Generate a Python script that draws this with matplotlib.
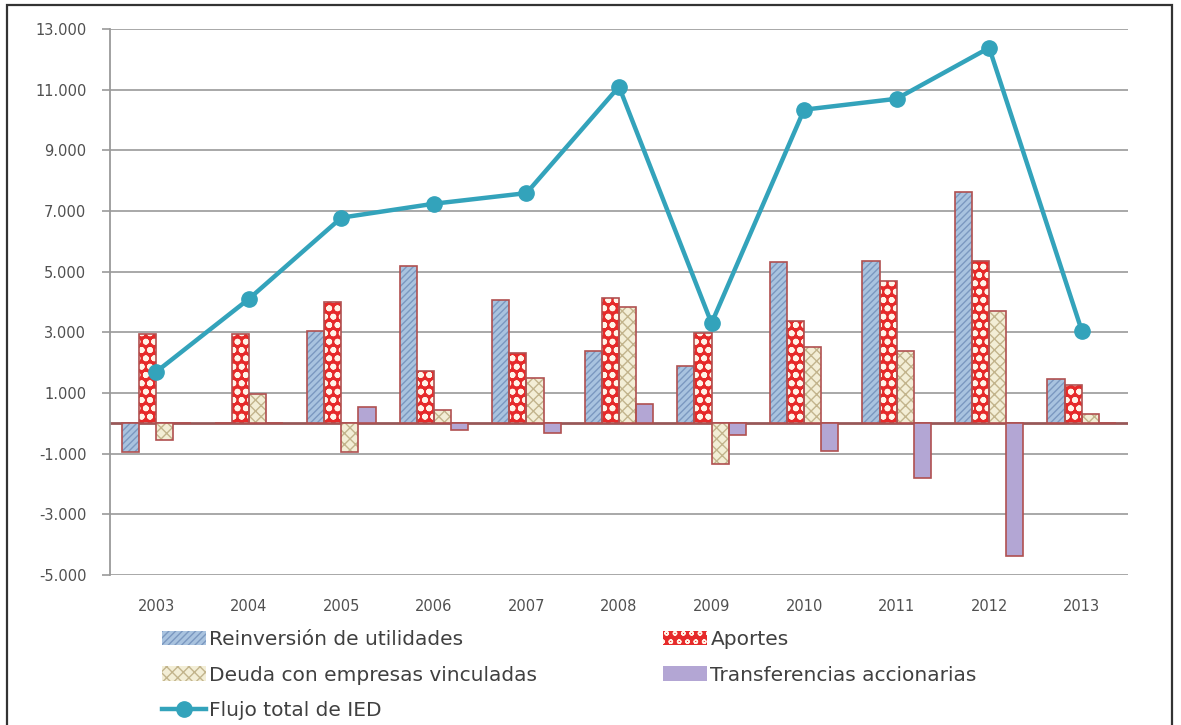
import numpy as np
import matplotlib
matplotlib.use("Agg")
import matplotlib.pyplot as plt
from matplotlib.patches import Rectangle, Patch
from matplotlib.lines import Line2D
from matplotlib.ticker import FuncFormatter

years = ['2003', '2004', '2005', '2006', '2007', '2008', '2009', '2010', '2011', '2012', '2013']
reinversion = [-930, 0, 3050, 5200, 4050, 2380, 1880, 5310, 5360, 7630, 1470]
aportes = [2960, 2960, 4000, 1720, 2320, 4130, 2980, 3370, 4700, 5340, 1250]
deuda = [-550, 980, -950, 430, 1500, 3830, -1350, 2510, 2380, 3690, 310]
transferencias = [0, 0, 540, -210, -320, 650, -400, -900, -1800, -4360, 0]
flujo = [1700, 4100, 6780, 7240, 7590, 11100, 3300, 10340, 10700, 12380, 3060]

labels = ['Reinversión de utilidades', 'Aportes', 'Deuda con empresas vinculadas',
          'Transferencias accionarias', 'Flujo total de IED']

edge = '#b05050'
# (face, hatch, hatch colour, hatch width)
styles = [('#a9c3df', '/////', '#7b98c0', 1.0),
          ('#e62a2a', 'oo', '#fff4e8', 1.8),
          ('#f3eed6', 'xxx', '#c2b48c', 1.0),
          ('#b3a6d4', '', '#b3a6d4', 1.0)]
line_col = '#33a3bb'

fig = plt.figure(figsize=(11.81, 7.25), dpi=100)
ax = fig.add_axes([110/1181, 1-575/725, 1018/1181, 546/725])

x = np.arange(len(years))
w = 0.185
series = [reinversion, aportes, deuda, transferencias]
for i, (vals, (fc, hatch, hc, hw)) in enumerate(zip(series, styles)):
    pos = x + (i - 1.5) * w
    with plt.rc_context({'hatch.linewidth': hw}):
        ax.bar(pos, vals, w, color=fc, edgecolor=hc, hatch=hatch, linewidth=0, zorder=3)
    ax.bar(pos, vals, w, fill=False, edgecolor=edge, linewidth=1.2, zorder=4)

ax.plot(x, flujo, color=line_col, lw=3.2, marker='o', ms=11, zorder=6)

ax.set_xlim(-0.5, len(years) - 0.5)
ax.set_ylim(-5000, 13000)
ax.set_yticks(np.arange(-5000, 13001, 2000))
ax.yaxis.set_major_formatter(FuncFormatter(lambda v, p: f'{int(v):,}'.replace(',', '.')))
ax.grid(axis='y', color='#9a9a9a', lw=1.2, zorder=0)
ax.axhline(0, color='#985858', lw=2, zorder=2)

for s in ['top', 'right', 'bottom']:
    ax.spines[s].set_visible(False)
ax.spines['left'].set_color('#9a9a9a')
ax.spines['left'].set_linewidth(1.3)
ax.tick_params(axis='y', length=6, width=1.2, color='#9a9a9a', pad=11,
               labelsize=10.5, labelcolor='#505050')
ax.set_xticks(x)
ax.set_xticklabels(years)
ax.tick_params(axis='x', length=0, pad=17, labelsize=10.5, labelcolor='#505050')

handles = []
for fc, hatch, hc, hw in styles:
    with plt.rc_context({'hatch.linewidth': hw}):
        handles.append(Patch(facecolor=fc, edgecolor=hc, hatch=hatch, lw=0))
handles.append(Line2D([], [], color=line_col, lw=3.2, marker='o', ms=11))

common = dict(frameon=False, fontsize=14.5, handlelength=2.2, handleheight=0.75,
              handletextpad=0.15, labelspacing=0.82, borderpad=0,
              labelcolor='#404040')
fig.legend([handles[0], handles[2], handles[4]], [labels[0], labels[2], labels[4]],
           loc='upper left', bbox_to_anchor=(152/1181, 1-620/725), **common)
fig.legend([handles[1], handles[3]], [labels[1], labels[3]],
           loc='upper left', bbox_to_anchor=(653/1181, 1-620/725), **common)

fig.add_artist(Rectangle((7/1181, -0.01), 1165/1181, 1 - 5/725 + 0.01,
                         transform=fig.transFigure, fill=False,
                         edgecolor='#333333', lw=1.6))

fig.savefig('out.png', dpi=100)
